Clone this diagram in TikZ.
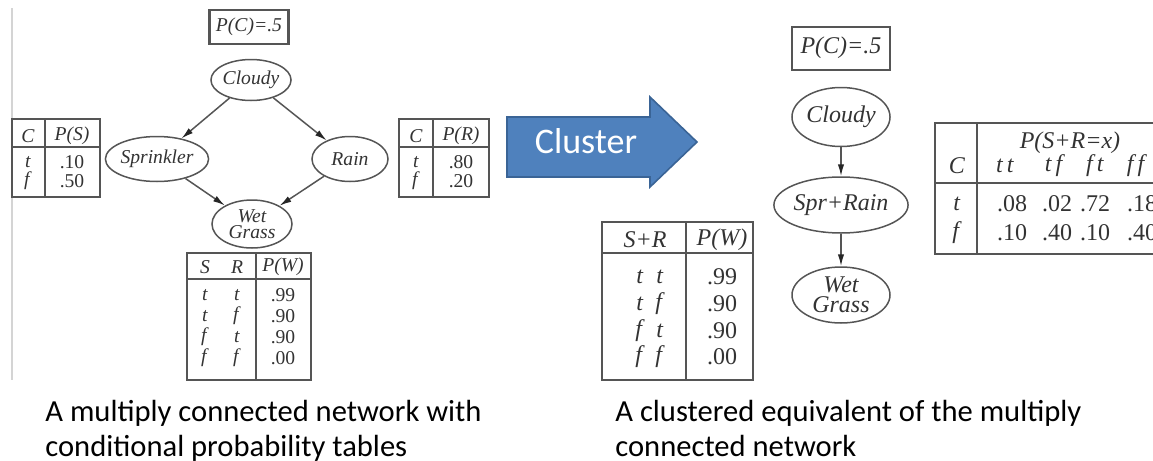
\documentclass[tikz,border=0pt]{standalone}
\usepackage{fontspec}
\setmainfont{Liberation Serif}
\newfontfamily\capfont{Carlito}
\usetikzlibrary{arrows.meta,shapes.geometric}
\definecolor{ink}{HTML}{333333}
\definecolor{rule}{HTML}{555555}
\definecolor{fade}{HTML}{D4D4D4}
\definecolor{ppt}{HTML}{4F81BD}
\definecolor{pptedge}{HTML}{3A6496}

\begin{document}
\begin{tikzpicture}[x=0.5pt,y=-0.5pt,text=ink,>={Latex[length=6pt,width=3.2pt,color=black!85]},
  var/.style={ellipse,draw=rule,line width=0.75pt,inner sep=0pt,align=center},
  smallvar/.style={var,font=\fontsize{9.8}{8.2}\selectfont\itshape},
  bigvar/.style={var,font=\fontsize{12}{10}\selectfont\itshape},
  link/.style={->,rule,line width=0.75pt},
  grid/.style={rule,line width=0.9pt},
  sm/.style={font=\fontsize{9.8}{10}\selectfont},
  lg/.style={font=\fontsize{12}{12}\selectfont},
  caption/.style={font=\capfont\fontsize{15.3}{17.5}\selectfont,align=left,anchor=base west,
    inner sep=0pt,text=black}]
  \path[use as bounding box] (0,0) rectangle (1153,461);
  \clip (0,0) rectangle (1153,461);

  % left: multiply connected network
  \draw[fade,line width=0.6pt] (12,8) -- (12,380);
  \node[sm,draw=rule,line width=1.1pt,minimum width=39.5pt,minimum height=17pt,inner sep=0pt]
    (pcL) at (249,27) {\textit{P(C)=.5}};
  \node[smallvar,minimum width=39pt,minimum height=20.5pt] (cloudyL) at (251,80) {Cloudy};
  \node[smallvar,minimum width=50pt,minimum height=22.5pt] (sprinkler) at (157,159) {Sprinkler};
  \node[smallvar,minimum width=38pt,minimum height=22.5pt] (rain) at (350,159) {Rain};
  \node[smallvar,minimum width=40pt,minimum height=24pt] (wetL) at (252,224) {Wet\\Grass};
  \draw[link] (cloudyL) -- (sprinkler);
  \draw[link] (cloudyL) -- (rain);
  \draw[link] (sprinkler) -- (wetL);
  \draw[link] (rain) -- (wetL);

  % P(S) table
  \draw[grid] (12,119) rectangle (100,197) (45,119) -- (45,197) (12,147) -- (100,147);
  \node[sm] (psC) at (28,136) {\textit{C}};
  \node[sm] (psP) at (72,136) {\textit{P(S)}};
  \foreach \v/\p [count=\i] in {t/.10,f/.50}{
    \node[sm] (psc\i) at (28,{143+19*\i}) {\textit{\v}};
    \node[sm] (psp\i) at (72,{143+19*\i}) {\p};
  }

  % P(R) table
  \draw[grid] (399,119) rectangle (489,197) (433,119) -- (433,197) (399,147) -- (489,147);
  \node[sm] (prC) at (416,136) {\textit{C}};
  \node[sm] (prP) at (461,136) {\textit{P(R)}};
  \foreach \v/\p [count=\i] in {t/.80,f/.20}{
    \node[sm] (prc\i) at (416,{143+19*\i}) {\textit{\v}};
    \node[sm] (prp\i) at (461,{143+19*\i}) {\p};
  }

  % P(W) table
  \draw[grid] (187,253) rectangle (311,380) (256,253) -- (256,380) (187,279) -- (311,279);
  \node[sm] (pwS) at (205,267) {\textit{S}};
  \node[sm] (pwR) at (237,267) {\textit{R}};
  \node[sm] (pwP) at (283,267) {\textit{P(W)}};
  \foreach \s/\r/\p [count=\i] in {t/t/.99,t/f/.90,f/t/.90,f/f/.00}{
    \node[sm] (pws\i) at (205,{274+21*\i}) {\textit{\s}};
    \node[sm] (pwr\i) at (237,{274+21*\i}) {\textit{\r}};
    \node[sm] (pwp\i) at (283,{274+21*\i}) {\p};
  }

  % cluster arrow
  \draw[fill=ppt,draw=pptedge,line width=0.8pt]
    (507,117) -- (650,117) -- (650,97) -- (697,142) -- (650,187) -- (650,177) -- (507,177) -- cycle;
  \node[font=\capfont\fontsize{18}{18}\selectfont,text=white] (cluster) at (586,141) {Cluster};

  % right: clustered network
  \node[lg,draw=rule,line width=1pt,minimum width=49pt,minimum height=21.5pt,inner sep=0pt]
    (pcR) at (841,48) {\textit{P(C)=.5}};
  \node[bigvar,minimum width=49pt,minimum height=29.5pt] (cloudyR) at (841,117) {Cloudy};
  \node[bigvar,minimum width=64pt,minimum height=28pt] (sprrain) at (841,205) {Spr+Rain};
  \node[bigvar,minimum width=49pt,minimum height=28pt] (wetR) at (841,295) {Wet\\Grass};
  \draw[link] (cloudyR) -- (sprrain);
  \draw[link] (sprrain) -- (wetR);

  % P(W) table, clustered
  \draw[grid] (602,222) rectangle (753,380) (686,222) -- (686,380) (602,253) -- (753,253);
  \node[lg] (cwS) at (645,240) {\textit{S+R}};
  \node[lg] (cwP) at (722,240) {\textit{P(W)}};
  \foreach \s/\r/\p [count=\i] in {t/t/.99,t/f/.90,f/t/.90,f/f/.00}{
    \node[lg] (cws\i) at (640,{250.3+26.7*\i}) {\textit{\s}};
    \node[lg] (cwr\i) at (660,{250.3+26.7*\i}) {\textit{\r}};
    \node[lg] (cwp\i) at (722,{250.3+26.7*\i}) {\p};
  }

  % P(S+R=x) table
  \draw[grid] (935,123) rectangle (1165,254) (977,123) -- (977,254) (935,183) -- (1165,183);
  \node[lg] (cpT) at (1070,143) {\textit{P(S+R=x)}};
  \node[lg] (cpC) at (957,166) {\textit{C}};
  \foreach \h/\x [count=\i] in {{t\,t}/1005,{t\,f}/1055,{f\,t}/1095,{f\,f}/1137}{
    \node[lg] (cph\i) at (\x,166) {\textit{\h}};
  }
  \node[lg] (cpt) at (957,204) {\textit{t}};
  \node[lg] (cpf) at (957,233) {\textit{f}};
  \foreach \a/\b/\x [count=\i] in {.08/.10/1012,.02/.40/1057,.72/.10/1095,.18/.40/1142}{
    \node[lg] (cpa\i) at (\x,204) {\a};
    \node[lg] (cpb\i) at (\x,233) {\b};
  }

  % captions
  \node[caption] (capL) at (45,456) {A multiply connected network with\\conditional probability tables};
  \node[caption] (capR) at (615,456) {A clustered equivalent of the multiply\\connected network};
\end{tikzpicture}
\end{document}
